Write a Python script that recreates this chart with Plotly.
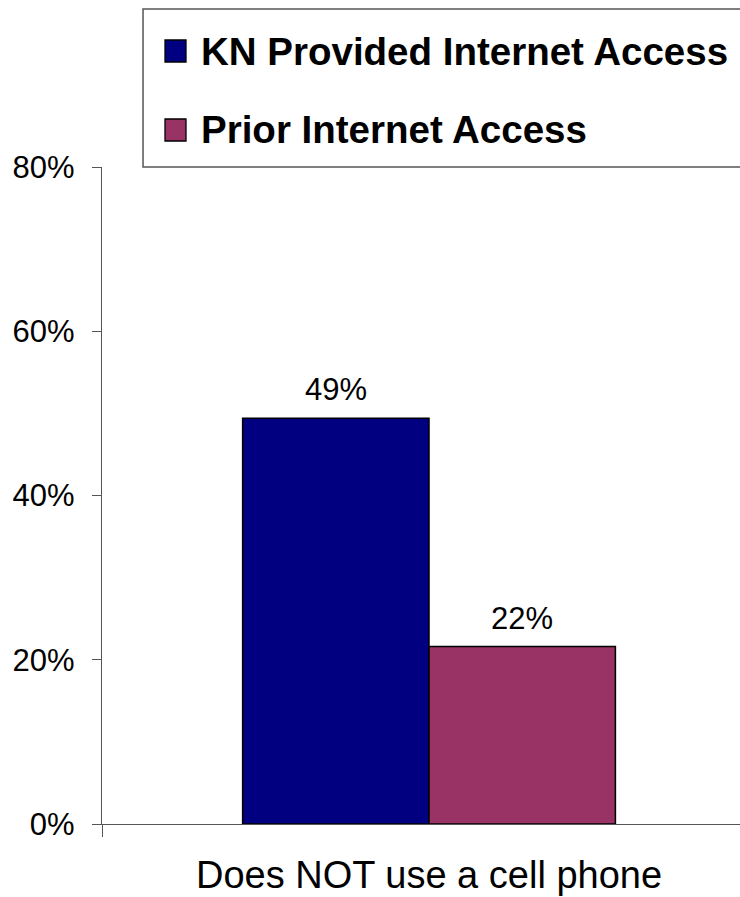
import plotly.graph_objects as go

categories = ["Does NOT use a cell phone"]
series_names = ["KN Provided Internet Access", "Prior Internet Access"]
kn_values = [49.4]
prior_values = [21.6]
value_labels = [["49%"], ["22%"]]
y_ticks = [0, 20, 40, 60, 80]
y_tick_labels = ["0%", "20%", "40%", "60%", "80%"]
colors = ["#000080", "#993366"]

FONT = "Liberation Sans, Arial, sans-serif"
bargap = 0.43

fig = go.Figure()
for name, vals, col in zip(series_names, [kn_values, prior_values], colors):
    fig.add_trace(go.Bar(
        x=categories, y=vals, name=name,
        marker=dict(color=col, line=dict(color="#000000", width=1.5)),
        showlegend=False,
    ))

# value labels above bars
half = (1 - bargap) / 2
for i, (vals, labs) in enumerate(zip([kn_values, prior_values], value_labels)):
    for j, (v, t) in enumerate(zip(vals, labs)):
        xc = j - (1 - bargap) / 2 + half * (i + 0.5)
        fig.add_annotation(x=xc, y=v, text=t, showarrow=False,
                           xref="x", yref="y", yanchor="bottom", yshift=9,
                           font=dict(family=FONT, size=31, color="#000000"))

# custom legend
fig.add_shape(type="rect", xref="paper", yref="paper",
              x0=0.0643, x1=1.06, y0=1.0, y1=1.2405,
              line=dict(color="#555555", width=1.5), fillcolor="rgba(0,0,0,0)")
row_y = [1.0 + (167 - 51) / 657, 1.0 + (167 - 130) / 657]
for name, col, yy in zip(series_names, colors, row_y):
    fig.add_shape(type="rect", xref="paper", yref="paper",
                  x0=(165 - 102) / 638, x1=(186 - 102) / 638,
                  y0=yy - 11 / 657, y1=yy + 11 / 657,
                  fillcolor=col, line=dict(color="#000000", width=1.3))
    fig.add_annotation(xref="paper", yref="paper", x=(199 - 102) / 638, y=yy,
                       xanchor="left", yanchor="middle", showarrow=False,
                       text="<b>" + name + "</b>",
                       font=dict(family=FONT, size=38.5, color="#000000"))

fig.update_layout(
    width=740, height=897,
    margin=dict(l=102, r=0, t=167, b=73),
    paper_bgcolor="white", plot_bgcolor="white",
    barmode="group", bargap=bargap,
    font=dict(family=FONT, color="#000000"),
    xaxis=dict(
        type="category", range=[-0.5, 0.4755],
        showline=True, linecolor="#555555", linewidth=1.3,
        ticks="outside", tickson="boundaries", ticklen=12, tickcolor="#555555",
        tickwidth=1.3,
        tickfont=dict(family=FONT, size=38, color="#000000"),
        ticklabelstandoff=17,
        showgrid=False, zeroline=False,
    ),
    yaxis=dict(
        range=[0, 80], tickvals=y_ticks, ticktext=y_tick_labels,
        showline=True, linecolor="#555555", linewidth=1.3,
        ticks="outside", ticklen=9, tickcolor="#555555", tickwidth=1.3,
        tickfont=dict(family=FONT, size=31, color="#000000"),
        ticklabelstandoff=11,
        showgrid=False, zeroline=False,
    ),
)

fig.write_html("out.html")
